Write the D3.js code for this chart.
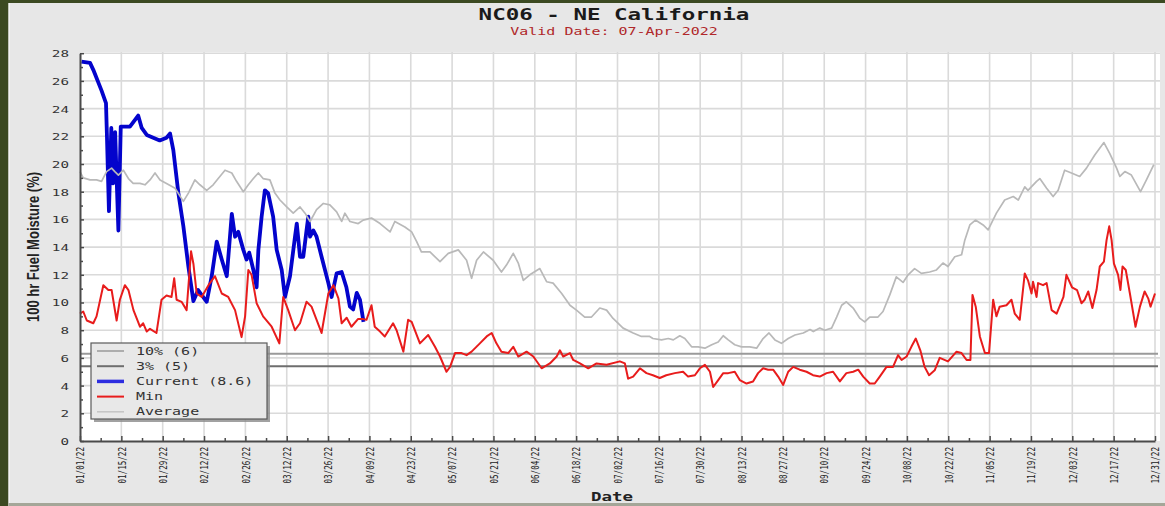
<!DOCTYPE html>
<html>
<head>
<meta charset="utf-8">
<script src="https://cdn.jsdelivr.net/npm/d3@7"></script>
<style>
  html, body { margin: 0; padding: 0; background: #e7e7e7; }
  svg { display: block; }
</style>
</head>
<body>
<svg id="chart" width="1165" height="506"></svg>
<script>
// ---- chart text ----
const titleText = "NC06 - NE California";
const subtitleText = "Valid Date: 07-Apr-2022";
const yAxisTitle = "100 hr Fuel Moisture (%)";
const xAxisTitle = "Date";

// ---- axis ticks ----
const dateTickLabels = ["01/01/22", "01/15/22", "01/29/22", "02/12/22", "02/26/22", "03/12/22",
  "03/26/22", "04/09/22", "04/23/22", "05/07/22", "05/21/22", "06/04/22", "06/18/22",
  "07/02/22", "07/16/22", "07/30/22", "08/13/22", "08/27/22", "09/10/22", "09/24/22",
  "10/08/22", "10/22/22", "11/05/22", "11/19/22", "12/03/22", "12/17/22", "12/31/22"];
const moistureTicks = [0, 2, 4, 6, 8, 10, 12, 14, 16, 18, 20, 22, 24, 26, 28];

// ---- percentile reference lines ----
const thresholdNames = ["10%", "3%"];
const thresholdValues = [6.3, 5.4];

// ---- series: [day of year (0 = Jan 1), fuel moisture %] ----
const currentSeries = [
  [0.5, 27.4], [3.4, 27.3], [4.5, 26.8], [7.3, 25.3], [8.8, 24.4], [9.1, 22.2], [9.8, 16.6],
  [10.6, 22.6], [11.2, 18.6], [11.9, 22.3], [12.4, 19.0], [13.0, 15.2], [13.8, 22.7], [16.9, 22.7],
  [19.7, 23.5], [20.9, 22.6], [22.6, 22.1], [27.0, 21.7], [29.3, 21.9], [30.5, 22.2], [31.6, 21.0],
  [33.3, 17.9], [35.0, 15.5], [36.7, 12.6], [38.4, 10.1], [40.0, 10.9], [42.9, 10.05], [44.6, 11.9],
  [46.3, 14.4], [48.0, 13.1], [49.7, 11.9], [51.4, 16.4], [52.5, 14.75], [53.6, 15.1], [55.3, 13.8],
  [56.4, 13.1], [57.3, 13.6], [58.7, 12.35], [59.8, 11.1], [60.4, 13.8], [61.5, 16.2], [62.6, 18.1],
  [63.7, 17.9], [65.4, 16.2], [66.6, 13.8], [68.3, 12.35], [69.4, 10.4], [71.1, 11.9], [72.8, 14.75],
  [73.4, 15.7], [74.5, 13.3], [75.6, 13.3], [76.7, 15.2], [77.3, 16.2], [77.9, 14.75], [79.0, 15.2],
  [80.1, 14.75], [81.8, 13.3], [84.1, 11.4], [85.2, 10.4], [86.9, 12.1], [88.6, 12.2], [90.2, 11.1],
  [91.4, 9.7], [92.5, 9.5], [93.7, 10.7], [94.8, 10.2], [96.0, 8.6]
];

const minSeries = [
  [0, 9.2], [1.1, 9.35], [2.3, 8.7], [4.5, 8.5], [5.6, 9.0], [7.9, 11.25], [9.6, 10.9], [10.7, 10.9],
  [12.4, 8.7], [13.5, 10.2], [15.2, 11.25], [16.4, 10.9], [18.1, 9.45], [20.3, 8.25], [21.4, 8.5],
  [22.6, 7.9], [23.7, 8.1], [25.9, 7.8], [27.6, 10.2], [29.3, 10.5], [31.0, 10.4], [31.9, 11.75],
  [32.7, 10.2], [34.4, 10.05], [36.1, 9.45], [37.6, 13.7], [38.4, 12.8], [39.5, 10.65], [41.2, 10.4],
  [43.5, 11.25], [45.7, 11.9], [48.0, 10.65], [50.2, 10.4], [52.5, 9.45], [54.7, 7.5], [55.9, 9.0],
  [57.0, 12.35], [58.1, 12.0], [59.8, 9.95], [62.0, 9.0], [64.9, 8.25], [67.5, 7.05], [68.8, 10.4],
  [70.5, 9.45], [72.8, 8.0], [74.5, 8.5], [76.7, 10.05], [78.4, 9.7], [81.8, 7.8], [84.1, 10.65],
  [85.8, 11.25], [87.5, 10.3], [88.6, 8.5], [90.3, 8.9], [91.9, 8.25], [94.1, 8.8], [95.9, 8.8],
  [97.0, 8.75], [98.7, 9.8], [99.8, 8.25], [101.6, 7.9], [103.2, 7.55], [106.0, 8.5], [107.2, 8.0],
  [109.5, 6.45], [111.1, 8.75], [112.3, 8.6], [115.1, 7.05], [117.9, 7.65], [120.2, 6.8], [121.9, 6.1],
  [124.1, 5.0], [125.3, 5.35], [127.0, 6.35], [129.2, 6.35], [130.9, 6.2], [132.6, 6.45], [135.4, 7.05],
  [137.7, 7.55], [139.4, 7.8], [141.0, 7.05], [142.7, 6.45], [145.0, 6.35], [146.7, 6.8], [148.4, 6.1],
  [151.2, 6.45], [153.5, 6.1], [156.3, 5.25], [159.1, 5.6], [161.4, 6.1], [162.5, 6.55], [163.6, 6.1],
  [165.9, 6.35], [167.0, 5.85], [169.3, 5.6], [172.1, 5.25], [174.9, 5.6], [178.3, 5.5], [182.8, 5.75],
  [184.5, 5.6], [185.6, 4.5], [187.3, 4.65], [189.6, 5.25], [191.8, 4.9], [194.0, 4.75], [196.3, 4.55],
  [198.5, 4.75], [201.4, 4.9], [204.2, 5.0], [205.9, 4.65], [208.2, 4.75], [209.9, 5.25], [211.6, 5.5],
  [213.3, 5.0], [214.4, 3.9], [216.1, 4.4], [217.8, 4.9], [219.5, 4.9], [221.7, 5.0], [223.4, 4.4],
  [225.7, 4.15], [227.9, 4.3], [229.6, 4.9], [231.3, 5.25], [233.0, 5.15], [234.7, 5.15], [236.4, 4.65],
  [238.1, 4.05], [239.8, 5.0], [241.5, 5.35], [243.7, 5.15], [246.0, 5.0], [248.2, 4.75], [250.5, 4.65],
  [252.8, 4.9], [255.0, 5.0], [257.3, 4.3], [259.5, 4.9], [261.8, 5.0], [263.5, 5.15], [265.2, 4.65],
  [267.4, 4.15], [269.1, 4.15], [270.8, 4.65], [273.1, 5.35], [275.3, 5.35], [277.0, 6.2], [278.2, 5.85],
  [279.9, 6.1], [281.5, 6.8], [283.0, 7.4], [284.6, 6.5], [286.0, 5.35], [287.5, 4.75], [289.4, 5.1],
  [291.1, 6.0], [293.9, 5.75], [296.8, 6.45], [298.5, 6.35], [300.2, 5.85], [301.5, 5.85], [302.2, 10.55],
  [303.3, 9.7], [304.7, 7.55], [306.4, 6.35], [307.8, 6.35], [309.2, 10.2], [310.3, 9.0], [311.4, 9.7],
  [313.7, 9.8], [315.4, 10.2], [316.5, 9.2], [318.2, 8.75], [319.9, 12.1], [321.0, 11.6], [322.2, 10.65],
  [322.7, 11.5], [323.9, 10.4], [324.4, 11.4], [326.1, 11.25], [327.3, 11.4], [329.0, 9.45], [330.7, 9.2],
  [333.0, 10.4], [334.0, 12.0], [335.9, 11.1], [337.6, 10.9], [339.1, 9.95], [340.2, 10.2], [341.4, 10.8],
  [342.8, 9.6], [344.2, 10.9], [345.3, 12.6], [346.7, 12.95], [347.6, 14.5], [348.5, 15.5], [349.3, 14.5],
  [350.1, 12.8], [351.5, 12.0], [352.3, 10.9], [353.0, 12.6], [354.1, 12.35], [355.5, 10.65], [357.4, 8.25],
  [358.9, 9.7], [360.5, 10.8], [361.7, 10.3], [362.5, 9.7], [364.0, 10.65]
];

const averageSeries = [
  [0, 19.45], [1.1, 19.0], [3.4, 18.85], [5.6, 18.85], [7.3, 18.75], [9.0, 19.45], [10.7, 19.7],
  [11.8, 19.45], [13.0, 19.2], [14.7, 19.55], [16.4, 18.95], [18.0, 18.6], [20.3, 18.6], [22.0, 18.5],
  [23.7, 18.85], [25.4, 19.35], [27.1, 18.85], [29.3, 18.6], [32.2, 18.25], [35.0, 17.3], [36.7, 17.9],
  [38.9, 18.85], [40.6, 18.5], [42.9, 18.1], [45.1, 18.5], [46.8, 18.95], [49.1, 19.55], [51.4, 19.35],
  [53.0, 18.75], [55.3, 18.0], [57.0, 18.5], [58.7, 18.95], [60.4, 19.35], [62.0, 18.95], [64.3, 18.85],
  [66.0, 17.9], [67.7, 17.4], [70.0, 16.9], [72.2, 16.45], [74.5, 16.9], [76.2, 16.45], [77.9, 15.85],
  [80.1, 16.7], [82.4, 17.15], [84.6, 17.05], [86.9, 16.55], [88.6, 15.85], [89.7, 16.45], [91.4, 15.85],
  [94.2, 15.7], [95.9, 15.95], [98.7, 16.1], [101.6, 15.7], [105.0, 15.1], [106.6, 15.85], [110.0, 15.45],
  [112.3, 15.1], [114.0, 14.4], [115.6, 13.65], [118.5, 13.65], [121.9, 12.95], [124.7, 13.55],
  [128.1, 13.8], [130.9, 13.05], [132.6, 11.75], [134.3, 13.05], [136.6, 13.65], [139.9, 13.05],
  [142.7, 12.2], [144.4, 12.7], [146.7, 13.55], [148.4, 12.85], [150.1, 11.6], [152.3, 12.0],
  [155.7, 12.45], [158.0, 11.5], [160.2, 11.4], [163.1, 10.65], [165.9, 9.8], [168.1, 9.45],
  [170.9, 8.95], [173.2, 8.95], [176.0, 9.6], [178.3, 9.45], [180.5, 8.85], [183.9, 8.15], [187.3, 7.8],
  [190.1, 7.55], [192.9, 7.55], [194.0, 7.4], [196.9, 7.3], [199.2, 7.4], [200.9, 7.3], [203.1, 7.6],
  [204.8, 7.4], [207.1, 6.8], [209.3, 6.8], [211.6, 6.7], [213.9, 6.95], [216.1, 7.15], [217.8, 7.6],
  [219.5, 7.3], [221.7, 6.95], [224.0, 6.8], [226.8, 6.8], [229.1, 6.7], [231.3, 7.4], [233.3, 7.8],
  [235.3, 7.3], [237.5, 7.05], [239.8, 7.4], [242.1, 7.65], [244.9, 7.8], [247.2, 8.05], [248.3, 7.9],
  [250.5, 8.15], [252.2, 8.0], [254.5, 8.15], [256.2, 8.95], [257.9, 9.8], [259.5, 10.05], [261.8, 9.6],
  [264.1, 8.85], [265.7, 8.6], [267.4, 8.95], [270.2, 8.95], [271.9, 9.35], [274.2, 10.55],
  [276.4, 11.85], [278.7, 11.45], [280.4, 12.0], [282.6, 12.45], [284.9, 12.1], [287.7, 12.2],
  [290.0, 12.35], [292.2, 12.85], [293.9, 12.6], [296.2, 13.3], [298.5, 13.45], [299.6, 14.5],
  [301.3, 15.6], [303.2, 15.95], [305.8, 15.6], [307.5, 15.25], [310.3, 16.45], [313.1, 17.4],
  [316.0, 17.65], [317.7, 17.4], [319.9, 18.35], [321.0, 18.1], [323.9, 18.75], [325.0, 18.95],
  [327.3, 18.25], [329.5, 17.65], [331.2, 18.1], [333.4, 19.55], [335.7, 19.35], [338.5, 19.1],
  [340.8, 19.7], [343.6, 20.65], [346.7, 21.55], [348.7, 20.75], [351.0, 19.7], [352.1, 19.1],
  [353.8, 19.45], [356.0, 19.2], [359.1, 18.0], [361.1, 18.85], [363.6, 19.95]
];

// ---- layout ----
const W = 1165, H = 506;
const plot = { left: 80, right: 1160, top: 52, bottom: 441 };
const stretch = 1.5;               // wide glyph look of the chart's fonts
const mono = "'DejaVu Sans Mono', 'Liberation Mono', monospace";

const svg = d3.select("#chart");
const parseTick = d3.utcParse("%m/%d/%y");
const tickDates = dateTickLabels.map(parseTick);
const yearStart = tickDates[0];
const dayToDate = d => new Date(yearStart.getTime() + d * 864e5);

const x = d3.scaleUtc()
  .domain([tickDates[0], tickDates[tickDates.length - 1]])
  .range([80, 1155]);
const y = d3.scaleLinear().domain([0, 28]).range([plot.bottom, 53.2]);

// ---- frame ----
svg.append("rect").attr("width", W).attr("height", H).attr("fill", "#e7e7e7");
svg.append("rect").attr("x", 0).attr("y", 0).attr("width", 8.5).attr("height", H).attr("fill", "#3c4a22");
svg.append("rect").attr("x", 0).attr("y", 0).attr("width", W).attr("height", 3).attr("fill", "#3c4a22");
svg.append("rect").attr("x", 8.5).attr("y", 3).attr("width", 1.5).attr("height", H - 3).attr("fill", "#f4f4f4");
svg.append("rect").attr("x", 8.5).attr("y", 503).attr("width", W - 8.5).attr("height", 3).attr("fill", "#a4a698");

// ---- titles ----
function stretchedText(g, tx, ty, text, opts) {
  const t = g.append("text")
    .attr("transform", `translate(${tx},${ty}) scale(${opts.sx || stretch},1)` + (opts.rotate ? ` rotate(${opts.rotate})` : ""))
    .attr("text-anchor", opts.anchor || "middle")
    .attr("font-family", opts.family || mono)
    .attr("font-size", opts.size)
    .attr("font-weight", opts.weight || "normal")
    .attr("fill", opts.fill || "#222")
    .text(text);
  if (opts.dy) t.attr("dy", opts.dy);
  return t;
}
stretchedText(svg, 614, 20, titleText, { size: 15, weight: "bold", fill: "#1a1a1a" });
stretchedText(svg, 614, 35, subtitleText, { size: 10, fill: "#b0282a" });

// ---- plot area & grid ----
svg.append("rect")
  .attr("x", plot.left).attr("y", plot.top)
  .attr("width", plot.right - plot.left).attr("height", plot.bottom - plot.top)
  .attr("fill", "#ffffff");

const grid = svg.append("g").attr("stroke", "#dadada").attr("stroke-width", 1.6);
grid.selectAll("line.v").data(tickDates.slice(1)).join("line")
  .attr("x1", d => x(d)).attr("x2", d => x(d))
  .attr("y1", plot.top).attr("y2", plot.bottom);
grid.selectAll("line.h").data(moistureTicks.slice(1)).join("line")
  .attr("x1", plot.left).attr("x2", plot.right)
  .attr("y1", d => y(d)).attr("y2", d => y(d));

// ---- percentile reference lines ----
const thresholdColors = ["#9a9a9a", "#6e6e6e"];
svg.append("g").selectAll("line").data(thresholdValues).join("line")
  .attr("x1", plot.left).attr("x2", plot.right - 2)
  .attr("y1", d => y(d)).attr("y2", d => y(d))
  .attr("stroke", (d, i) => thresholdColors[i])
  .attr("stroke-width", 2);

// ---- series ----
const line = d3.line().x(d => x(dayToDate(d[0]))).y(d => y(d[1]));
svg.append("path").datum(currentSeries)
  .attr("d", line).attr("fill", "none")
  .attr("stroke", "#0303cc").attr("stroke-width", 3.8)
  .attr("stroke-linejoin", "round");
svg.append("path").datum(minSeries)
  .attr("d", line).attr("fill", "none")
  .attr("stroke", "#e81c1c").attr("stroke-width", 2)
  .attr("stroke-linejoin", "round");
svg.append("path").datum(averageSeries)
  .attr("d", line).attr("fill", "none")
  .attr("stroke", "#b9b9b9").attr("stroke-width", 1.7)
  .attr("stroke-linejoin", "round");

// ---- axes ----
const axisColor = "#4a4a4a";
const minorDates = d3.range(7, 364, 14).map(dayToDate);

const xAxis = svg.append("g").attr("transform", `translate(0,${plot.bottom})`)
  .call(d3.axisBottom(x).tickValues(tickDates).tickSize(-5).tickSizeOuter(0).tickFormat(d3.utcFormat("%m/%d/%y")));
svg.append("g").attr("transform", `translate(0,${plot.bottom})`)
  .call(d3.axisBottom(x).tickValues(minorDates).tickSize(-3).tickSizeOuter(0).tickFormat(""))
  .call(g => g.select(".domain").remove());

const yAxis = svg.append("g").attr("transform", `translate(${plot.left},0)`)
  .call(d3.axisLeft(y).tickValues(moistureTicks).tickSize(-4).tickSizeOuter(0));
svg.append("g").attr("transform", `translate(${plot.left},0)`)
  .call(d3.axisLeft(y).tickValues(d3.range(1, 28, 2)).tickSize(-3).tickSizeOuter(0).tickFormat(""))
  .call(g => g.select(".domain").remove());

svg.selectAll(".domain").attr("stroke", axisColor).attr("stroke-width", 2);
svg.selectAll(".tick line").attr("stroke", axisColor).attr("stroke-width", 1.5);

xAxis.selectAll(".tick text")
  .attr("x", null).attr("y", null).attr("dy", "0.35em")
  .attr("transform", `translate(0,6) scale(1.4,1) rotate(-90)`)
  .attr("text-anchor", "end")
  .attr("font-family", mono).attr("font-size", 7.6)
  .attr("fill", "#222");

yAxis.selectAll(".tick text")
  .attr("x", null).attr("dy", "0.36em")
  .attr("transform", `translate(-11,0) scale(${stretch},1)`)
  .attr("text-anchor", "end")
  .attr("font-family", mono).attr("font-size", 9.5)
  .attr("fill", "#333");

// axis titles
stretchedText(svg, 33, 247, yAxisTitle, {
  rotate: -90, sx: 1.25, size: 13, weight: "bold",
  family: "'Liberation Sans', Arial, sans-serif", fill: "#222", dy: "0.35em"
});
stretchedText(svg, 612, 501, xAxisTitle, { size: 12.5, weight: "bold", sx: 1.4, fill: "#222" });

// ---- legend ----
const fmt0 = d3.format(".0f");
const lastCurrent = currentSeries[currentSeries.length - 1][1];
const legendItems = [
  { label: `${thresholdNames[0]} (${fmt0(thresholdValues[0])})`, color: thresholdColors[0], width: 1.5 },
  { label: `${thresholdNames[1]} (${fmt0(thresholdValues[1])})`, color: thresholdColors[1], width: 2 },
  { label: `Current (${lastCurrent})`, color: "#2d2de0", width: 3.5 },
  { label: "Min", color: "#e81c1c", width: 2 },
  { label: "Average", color: "#c4c4c4", width: 1.5 }
];
const legend = svg.append("g").attr("transform", "translate(91,343)");
legend.append("rect").attr("x", 3).attr("y", 3).attr("width", 176).attr("height", 76)
  .attr("fill", "#8a8a8a").attr("opacity", 0.8);
legend.append("rect").attr("x", 0).attr("y", 0).attr("width", 176).attr("height", 76)
  .attr("fill", "#e8e8e8").attr("stroke", "#5a5a5a").attr("stroke-width", 1.2);
const rows = legend.selectAll("g.row").data(legendItems).join("g")
  .attr("transform", (d, i) => `translate(0,${8 + i * 15.2})`);
rows.append("line").attr("x1", 6).attr("x2", 33).attr("y1", 0).attr("y2", 0)
  .attr("stroke", d => d.color).attr("stroke-width", d => d.width);
rows.each(function (d) {
  stretchedText(d3.select(this), 45, 0, d.label, { anchor: "start", size: 10, fill: "#333", dy: "0.35em" });
});
</script>
</body>
</html>
